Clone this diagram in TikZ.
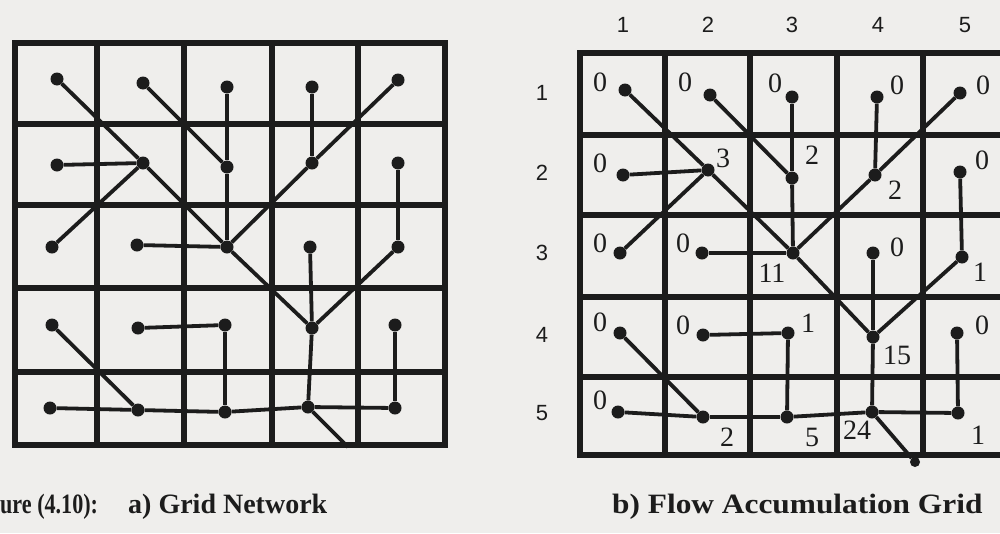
\documentclass[tikz,border=0pt]{standalone}
\usepackage{graphicx}
\usepackage{fontspec}
\setmainfont{Liberation Serif}
\newfontfamily\axisfont{Liberation Sans}
\definecolor{paper}{RGB}{239,238,236}
\definecolor{ink}{RGB}{28,28,28}
\begin{document}
\begin{tikzpicture}[x=1pt,y=-1pt,
  gridline/.style={line width=6pt, draw=ink, line cap=rect},
  flow/.style={line width=3.8pt, draw=ink},
  dot/.style={circle, fill=ink, inner sep=0pt, minimum size=13pt},
  num/.style={font=\fontsize{28}{28}\selectfont, inner sep=0pt, text=ink},
  axislab/.style={font=\axisfont\fontsize{22}{22}\selectfont, inner sep=0pt, text=ink},
  captext/.style={font=\bfseries\fontsize{28}{28}\selectfont, inner sep=0pt, anchor=base west, text=ink}]
\useasboundingbox (0,0) rectangle (1000,533);
\fill[paper] (0,0) rectangle (1000,533);
\clip (0,0) rectangle (1000,533);
% ---- left grid
\foreach \x in {15,97,184,272,358,445} \draw[gridline] (\x,43) -- (\x,445);
\foreach \y in {43,124,205,288,372,445} \draw[gridline] (15,\y) -- (445,\y);
% ---- right grid
\foreach \x in {580,665,750,837,923,1005} \draw[gridline] (\x,53) -- (\x,455);
\foreach \y in {53,135,215,297,377,455} \draw[gridline] (580,\y) -- (1005,\y);
% ---- left nodes
\foreach \n/\x/\y in {11/57/79,12/143/83,13/227/87,14/312/87,15/398/80,
  21/57/165,22/143/163,23/227/167,24/312/163,25/398/163,
  31/52/247,32/137/245,33/227/247,34/310/247,35/398/247,
  41/52/325,42/138/328,43/225/325,44/312/328,45/395/325,
  51/50/408,52/138/410,53/225/412,54/308/407,55/395/408}
  \node[dot] (a\n) at (\x,\y) {};
\coordinate (aout) at (348,447);
% ---- right nodes
\foreach \n/\x/\y in {11/625/90,12/710/95,13/792/97,14/877/97,15/960/93,
  21/623/175,22/708/170,23/792/178,24/875/175,25/960/172,
  31/620/253,32/702/253,33/793/253,34/873/253,35/962/257,
  41/620/333,42/703/335,43/788/333,44/873/337,45/957/333,
  51/618/412,52/703/417,53/787/417,54/872/412,55/958/413}
  \node[dot] (b\n) at (\x,\y) {};
\node[dot, minimum size=10pt] (bout) at (915,462) {};
% ---- flow connectors
\foreach \p in {a,b} {
  \foreach \s/\t in {11/22,12/23,13/23,14/24,15/24,
    21/22,22/33,23/33,24/33,25/35,
    31/22,32/33,33/44,34/44,35/44,
    41/52,42/43,43/53,44/54,45/55,
    51/52,52/53,53/54,55/54}
    \draw[flow] (\p\s) -- (\p\t);
  \draw[flow] (\p54) -- (\p out);
}
% ---- accumulation values
\foreach \x/\y/\v in {600/82/0,685/82/0,775/83/0,897/85/0,983/85/0,
  600/163/0,723/158/3,812/155/2,895/190/2,982/160/0,
  600/243/0,683/243/0,772/273/11,897/247/0,980/272/1,
  600/322/0,683/325/0,808/323/1,897/355/15,982/325/0,
  600/400/0,727/437/2,812/437/5,857/430/24,978/435/1}
  \node[num] at (\x,\y) {\v};
% ---- axis labels
\foreach \x/\v in {623/1,708/2,792/3,878/4,965/5}
  \node[axislab] (col\v) at (\x,25) {\v};
\foreach \y/\v in {93/1,173/2,253/3,335/4,413/5}
  \node[axislab] (row\v) at (542,\y) {\v};
% ---- captions
\node[captext] (capfig) at (0,513) {\scalebox{0.79}[1]{ure (4.10):}};
\node[captext] (capa) at (128,513) {a) Grid Network};
\node[captext] (capb) at (612,513) {\scalebox{1.12}[1]{b) Flow Accumulation Grid}};
\end{tikzpicture}
\end{document}
